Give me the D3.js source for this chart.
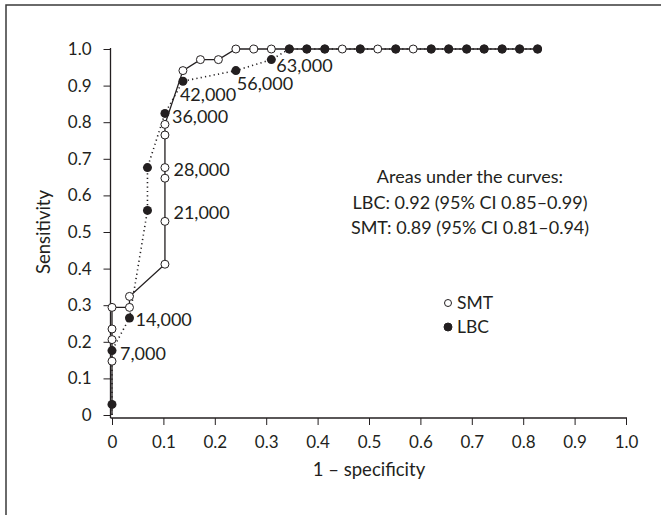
<!DOCTYPE html>
<html>
<head>
<meta charset="utf-8">
<script src="https://cdn.jsdelivr.net/npm/d3@7"></script>
<style>
  body { margin: 0; background: #fff; }
  svg text { font-family: Lato, "Open Sans", sans-serif; fill: #231f20; }
</style>
</head>
<body>
<script>
// ROC points: [1 - specificity, sensitivity]
var smtPoints = [
  [0, 0.147], [0, 0.206], [0, 0.235], [0, 0.294], [0.034, 0.294], [0.034, 0.324],
  [0.103, 0.412], [0.103, 0.529], [0.103, 0.647], [0.103, 0.676], [0.103, 0.765],
  [0.103, 0.794], [0.138, 0.941], [0.172, 0.971], [0.207, 0.971], [0.241, 1],
  [0.276, 1], [0.310, 1], [0.345, 1], [0.379, 1], [0.414, 1], [0.448, 1], [0.483, 1],
  [0.517, 1], [0.552, 1], [0.586, 1], [0.621, 1], [0.655, 1], [0.690, 1], [0.724, 1],
  [0.759, 1], [0.793, 1], [0.828, 1]
];

var lbcPoints = [
  [0, 0.029], [0, 0.176], [0.034, 0.265], [0.069, 0.559], [0.069, 0.676],
  [0.103, 0.824], [0.138, 0.912], [0.241, 0.941], [0.310, 0.971], [0.345, 1],
  [0.379, 1], [0.414, 1], [0.483, 1], [0.552, 1], [0.621, 1], [0.655, 1],
  [0.690, 1], [0.724, 1], [0.759, 1], [0.793, 1], [0.828, 1]
];

// cut-off labels and the LBC point each belongs to
var cutoffLabels = ["7,000", "14,000", "21,000", "28,000", "36,000", "42,000", "56,000", "63,000"];
var cutoffIndex = [1, 2, 3, 4, 5, 6, 7, 8];

var tickValues = [0, 0.1, 0.2, 0.3, 0.4, 0.5, 0.6, 0.7, 0.8, 0.9, 1.0];
var tickLabels = ["0", "0.1", "0.2", "0.3", "0.4", "0.5", "0.6", "0.7", "0.8", "0.9", "1.0"];

var aucLines = [
  "Areas under the curves:",
  "LBC: 0.92 (95% CI 0.85\u20130.99)",
  "SMT: 0.89 (95% CI 0.81\u20130.94)"
];
var legendNames = ["SMT", "LBC"];

var width = 661, height = 515;
var ink = "#231f20";

var svg = d3.select("body").append("svg")
  .attr("width", width)
  .attr("height", height);

// frame (only top and left edges are visible)
svg.append("rect")
  .attr("x", 6).attr("y", 5)
  .attr("width", 800).attr("height", 700)
  .attr("fill", "none")
  .attr("stroke", "#3a3a3a")
  .attr("stroke-width", 1.5);

var x = d3.scaleLinear().domain([0, 1]).range([112, 626]);
var y = d3.scaleLinear().domain([0, 1]).range([415, 49]);

var minor = d3.range(0, 1.001, 0.02).filter(function(v) {
  return Math.abs(v * 10 - Math.round(v * 10)) > 1e-6;
});

var axisY = y(0) + 3;   // x axis sits a little under y = 0
var axisX = x(0) - 1.5;

// y axis
var gy = svg.append("g").attr("transform", "translate(" + axisX + ",0)");
gy.call(d3.axisLeft(y).tickValues(minor).tickSize(4).tickFormat(""));
gy.call(d3.axisLeft(y).tickValues(tickValues).tickSize(7).tickPadding(12)
  .tickFormat(function(d, i) { return tickLabels[i]; }));
gy.selectAll(".domain").remove();
gy.append("line")
  .attr("x1", 0).attr("x2", 0)
  .attr("y1", y(1) - 1).attr("y2", axisY)
  .attr("stroke", ink).attr("stroke-width", 1.3);

// x axis
var gx = svg.append("g").attr("transform", "translate(0," + axisY + ")");
gx.call(d3.axisBottom(x).tickValues(minor).tickSize(4).tickFormat(""));
gx.call(d3.axisBottom(x).tickValues(tickValues).tickSize(7).tickPadding(11)
  .tickFormat(function(d, i) { return tickLabels[i]; }));
gx.selectAll(".domain").remove();
gx.append("line")
  .attr("x1", axisX).attr("x2", x(1) + 1)
  .attr("y1", 0).attr("y2", 0)
  .attr("stroke", ink).attr("stroke-width", 1.3);

svg.selectAll(".tick line").attr("stroke", ink).attr("stroke-width", 1);
svg.selectAll(".tick text")
  .attr("font-size", 17)
  .style("font-family", "Lato, sans-serif")
  .attr("fill", ink);

// axis titles
svg.append("text")
  .attr("x", (x(0) + x(1)) / 2)
  .attr("y", 476)
  .attr("text-anchor", "middle")
  .attr("font-size", 18.5)
  .text("1 \u2013 specificity");

svg.append("text")
  .attr("transform", "translate(50," + (y(0) + y(1)) / 2 + ") rotate(-90)")
  .attr("text-anchor", "middle")
  .attr("font-size", 18.5)
  .text("Sensitivity");

// curves
var line = d3.line()
  .x(function(d) { return x(d[0]); })
  .y(function(d) { return y(d[1]); });

svg.append("path")
  .datum([[0, 0]].concat(smtPoints))
  .attr("d", line)
  .attr("fill", "none")
  .attr("stroke", ink)
  .attr("stroke-width", 1.3);

svg.append("path")
  .datum([[0, 0]].concat(lbcPoints))
  .attr("d", line)
  .attr("fill", "none")
  .attr("stroke", ink)
  .attr("stroke-width", 1.6)
  .attr("stroke-dasharray", "1.2,3.2");

svg.append("g").selectAll("circle")
  .data(smtPoints)
  .enter()
  .append("circle")
  .attr("cx", function(d) { return x(d[0]); })
  .attr("cy", function(d) { return y(d[1]); })
  .attr("r", 4)
  .attr("fill", "#fff")
  .attr("stroke", ink)
  .attr("stroke-width", 1);

svg.append("g").selectAll("circle")
  .data(lbcPoints)
  .enter()
  .append("circle")
  .attr("cx", function(d) { return x(d[0]); })
  .attr("cy", function(d) { return y(d[1]); })
  .attr("r", 4.5)
  .attr("fill", ink);

// cut-off labels, nudged off their points like in the figure
var labelOffsets = [[8, 3], [6, 2], [26, 2], [26, 2], [7, 3], [-3, 13], [1, 13], [5, 6]];
svg.append("g").selectAll("text")
  .data(cutoffLabels)
  .enter()
  .append("text")
  .attr("x", function(d, i) { return x(lbcPoints[cutoffIndex[i]][0]) + labelOffsets[i][0]; })
  .attr("y", function(d, i) { return y(lbcPoints[cutoffIndex[i]][1]) + labelOffsets[i][1]; })
  .attr("dy", "0.36em")
  .attr("font-size", 18)
  .text(function(d) { return d; });

// AUC text block
svg.append("g").selectAll("text")
  .data(aucLines)
  .enter()
  .append("text")
  .attr("x", 470)
  .attr("y", function(d, i) { return 177 + i * 25.5; })
  .attr("dy", "0.36em")
  .attr("text-anchor", "middle")
  .attr("font-size", 18)
  .text(function(d) { return d; });

// legend
var legend = svg.append("g").selectAll("g")
  .data(legendNames)
  .enter()
  .append("g")
  .attr("transform", function(d, i) { return "translate(448," + (303 + i * 24) + ")"; });

legend.append("circle")
  .attr("r", function(d, i) { return i === 0 ? 3.5 : 4; })
  .attr("fill", function(d, i) { return i === 0 ? "#fff" : ink; })
  .attr("stroke", ink)
  .attr("stroke-width", 1);

legend.append("text")
  .attr("x", 9)
  .attr("dy", "0.36em")
  .attr("font-size", 17.5)
  .text(function(d) { return d; });
</script>
</body>
</html>
